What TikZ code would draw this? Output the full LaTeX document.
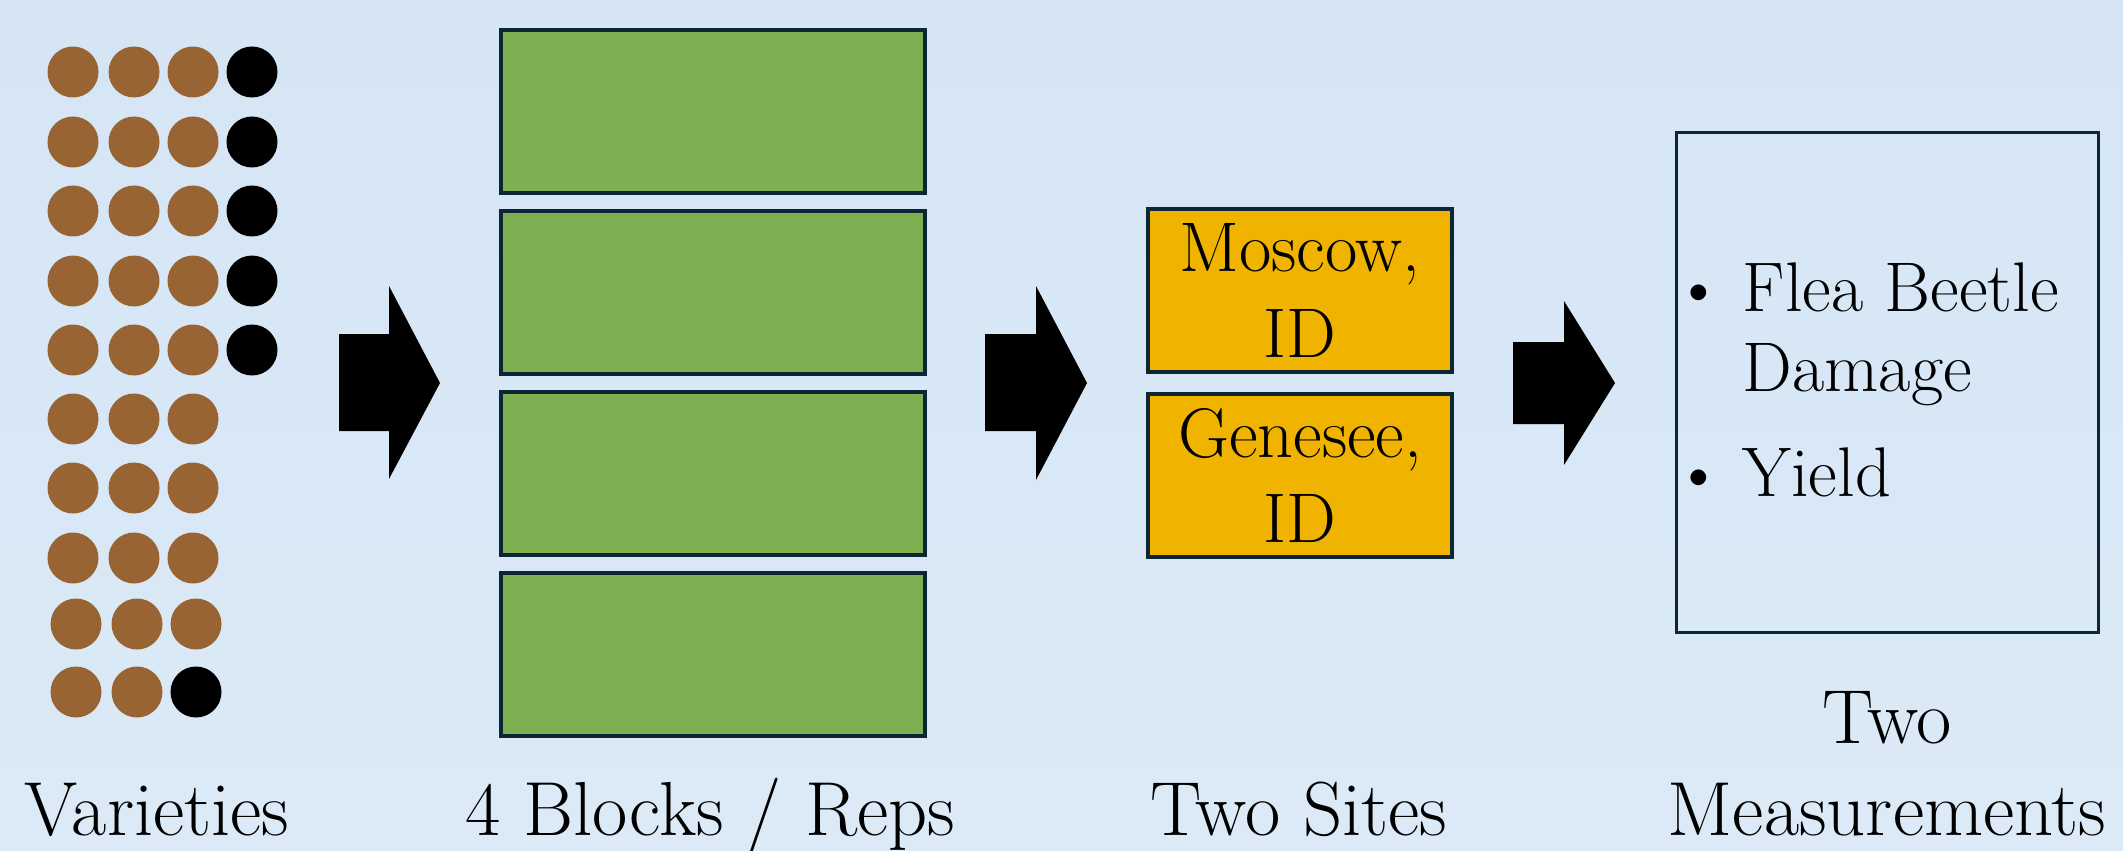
\documentclass[tikz,border=0pt]{standalone}
\usepackage{array}
\definecolor{bgtop}{RGB}{213,229,244}
\definecolor{bgbottom}{RGB}{220,234,247}
\definecolor{edge}{RGB}{12,38,54}
\definecolor{plotgreen}{RGB}{126,175,80}
\definecolor{siteorange}{RGB}{240,180,0}
\definecolor{seedbrown}{RGB}{153,100,52}

\begin{document}
\begin{tikzpicture}[x=0.1mm,y=-0.1mm,
  outline/.style={draw=edge, line width=0.4mm},
  plotbox/.style={outline, fill=plotgreen, minimum width=42.4mm, minimum height=16.3mm, inner sep=0pt},
  sitebox/.style={outline, fill=siteorange, minimum width=30.4mm, minimum height=16.3mm,
    inner sep=0pt, align=center, font=\fontsize{20}{24.2}\selectfont},
  measbox/.style={draw=edge, line width=0.35mm, minimum width=42.2mm, minimum height=50mm, inner sep=0pt},
  caption/.style={font=\fontsize{21.8}{26.2}\selectfont, inner sep=0pt, align=center},
  listtext/.style={font=\fontsize{20}{23}\selectfont, inner sep=0pt},
  bigarrow/.style={fill=black},
  seed/.style={fill=seedbrown},
  check/.style={fill=black}
]
% background
\shade[top color=bgtop, bottom color=bgbottom] (0,0) rectangle (2123,851);
\useasboundingbox (0,0) rectangle (2123,851);

% varieties: grid of seeds, checks in black
\foreach \y in {72,142,211,281,350}{
  \foreach \x in {73,134,193}{\fill[seed] (\x,\y) circle[radius=2.55mm];}
  \fill[check] (252,\y) circle[radius=2.55mm];
}
\foreach \y in {419,488,558}{
  \foreach \x in {73,134,193}{\fill[seed] (\x,\y) circle[radius=2.55mm];}
}
\foreach \x in {76,137,196}{\fill[seed] (\x,624) circle[radius=2.55mm];}
\foreach \x in {76,137}{\fill[seed] (\x,692) circle[radius=2.55mm];}
\fill[check] (196,692) circle[radius=2.55mm];

% blocks / reps
\node[plotbox] (rep1) at (713,111.5) {};
\node[plotbox] (rep2) at (713,292.5) {};
\node[plotbox] (rep3) at (713,473) {};
\node[plotbox] (rep4) at (713,654) {};

% sites
\node[sitebox] (moscow) at (1300,290.5) {Moscow,\\ID};
\node[sitebox] (genesee) at (1300,475) {Genesee,\\ID};

% measurements
\node[measbox] (meas) at (1887.5,382.5) {};
\node[listtext, anchor=base west] (measlist) at (1673,311)
  {\begin{tabular}[t]{@{}p{6.9mm}@{}l@{}}
    \textbullet & Flea Beetle\\
                & Damage\\[6.9pt]
    \textbullet & Yield
  \end{tabular}};

% block arrows between stages
\fill[bigarrow] (339,334) -- (389,334) -- (389,286) -- (440,383) -- (389,479) -- (389,431) -- (339,431) -- cycle;
\fill[bigarrow] (985,334) -- (1036,334) -- (1036,286) -- (1087,383) -- (1036,480) -- (1036,431) -- (985,431) -- cycle;
\fill[bigarrow] (1513,342) -- (1564,342) -- (1564,301) -- (1615,383) -- (1564,465) -- (1564,424) -- (1513,424) -- cycle;

% stage captions
\node[caption, anchor=base] (capvar) at (157,835) {Varieties};
\node[caption, anchor=base] (caprep) at (710,835) {4 Blocks / Reps};
\node[caption, anchor=base] (capsite) at (1299,835) {Two Sites};
\node[caption, anchor=south] (capmeas) at (1887,837) {Two\\Measurements};
\end{tikzpicture}
\end{document}
